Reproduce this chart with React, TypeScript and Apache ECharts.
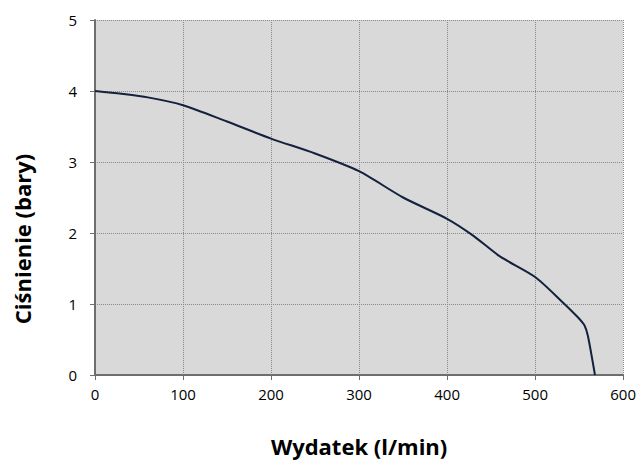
import React, { useEffect, useRef } from "react";
import * as echarts from "echarts";

const flowValues = [0, 30, 60, 100, 150, 200, 250, 300, 350, 400, 430, 460, 500, 530, 548, 556, 560, 568];
const pressureValues = [4.0, 3.96, 3.91, 3.8, 3.57, 3.33, 3.12, 2.87, 2.5, 2.2, 1.96, 1.67, 1.38, 1.04, 0.82, 0.7, 0.55, 0.0];
const xTicks = [0, 600, 100];
const yTicks = [0, 5, 1];
const xName = "Wydatek (l/min)";
const yName = "Ciśnienie (bary)";

export default function App() {
  const ref = useRef<HTMLDivElement>(null);
  useEffect(() => {
    if (!ref.current) return;
    const chart = echarts.init(ref.current, undefined, { renderer: "svg" });
    const data = flowValues.map((f, i) => [f, pressureValues[i]]);
    const font = "'Open Sans', 'Noto Sans', sans-serif";
    chart.setOption({
      animation: false,
      textStyle: { fontFamily: font },
      grid: { left: 95, right: 11, top: 20, bottom: 85, show: true, backgroundColor: "#d9d9d9", borderWidth: 0 },
      graphic: [
        {
          type: "text",
          x: 22,
          y: 239,
          rotation: Math.PI / 2,
          style: {
            text: yName,
            fontSize: 22,
            fontWeight: "bold",
            fontFamily: font,
            fill: "#000",
            align: "center",
            verticalAlign: "middle",
          },
        },
      ],
      xAxis: {
        type: "value",
        min: xTicks[0],
        max: xTicks[1],
        interval: xTicks[2],
        name: xName,
        nameLocation: "middle",
        nameGap: 60,
        nameTextStyle: { fontSize: 22, fontWeight: "bold", color: "#000", fontFamily: font },
        axisLine: { show: true, lineStyle: { color: "#6e6e6e", width: 2 } },
        axisTick: { show: true, length: 5, lineStyle: { color: "#6e6e6e", width: 1 } },
        axisLabel: { color: "#000", fontSize: 15, margin: 11, fontFamily: font },
        splitLine: { show: true, lineStyle: { color: "#8a8a8a", type: [1, 1], width: 1 } },
      },
      yAxis: {
        type: "value",
        min: yTicks[0],
        max: yTicks[1],
        interval: yTicks[2],
        axisLine: { show: true, lineStyle: { color: "#6e6e6e", width: 2 } },
        axisTick: { show: true, length: 5, lineStyle: { color: "#6e6e6e", width: 1 } },
        axisLabel: { color: "#000", fontSize: 15, margin: 18, fontFamily: font },
        splitLine: { show: true, lineStyle: { color: "#8a8a8a", type: [1, 1], width: 1 } },
      },
      series: [
        {
          type: "line",
          data,
          smooth: 0.25,
          showSymbol: false,
          lineStyle: { color: "#14213d", width: 2 },
        },
      ],
    });
    return () => chart.dispose();
  }, []);
  return (
    <div
      ref={ref}
      style={{ position: "fixed", left: 0, top: 0, width: 639, height: 462, background: "#fff" }}
    />
  );
}
